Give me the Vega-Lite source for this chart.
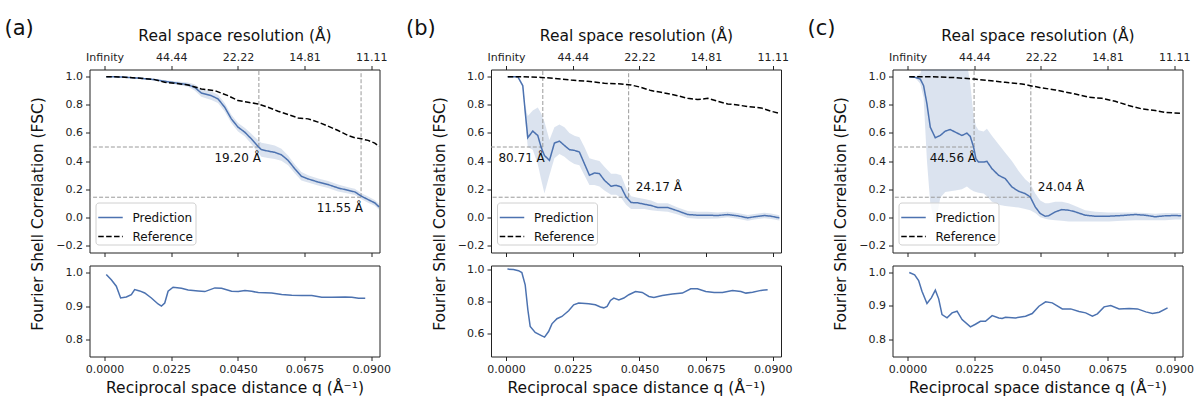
{
  "$schema": "https://vega.github.io/schema/vega-lite/v6.json",
  "padding": {"left": 3.5, "top": 16.5, "right": 0, "bottom": 0},
  "config": {
    "font": "DejaVu Sans",
    "view": {"stroke": "#222", "strokeWidth": 1},
    "axis": {
      "domain": false, "grid": false, "ticks": true, "tickColor": "#222", "tickSize": 4,
      "labelFont": "DejaVu Sans", "labelFontSize": 11, "labelColor": "#222", "labelPadding": 3, "labelOverlap": false,
      "titleFont": "DejaVu Sans", "titleFontSize": 15.5, "titleFontWeight": "normal", "titleColor": "#111"
    },
    "legend": {
      "orient": "none", "legendX": 6, "legendY": 133, "title": null, "symbolType": "stroke", "symbolSize": 600,
      "symbolStrokeWidth": 1.5, "labelFont": "DejaVu Sans", "labelFontSize": 12, "labelColor": "#111",
      "strokeColor": "#d0d0d0", "cornerRadius": 3, "padding": 2, "fillColor": "rgba(255,255,255,0.8)",
      "rowPadding": -10, "labelOffset": 9
    },
    "title": {"font": "DejaVu Sans", "fontSize": 21, "fontWeight": "normal", "color": "#111"}
  },
  "datasets": {
    "curvesA": [
      {"series": "Prediction", "q": 0.00056, "fsc": 1.0, "lo": 1.0, "hi": 1.0},
      {"series": "Prediction", "q": 0.00563, "fsc": 0.998, "lo": 0.996, "hi": 1.0},
      {"series": "Prediction", "q": 0.01126, "fsc": 0.99, "lo": 0.986, "hi": 0.994},
      {"series": "Prediction", "q": 0.01689, "fsc": 0.979, "lo": 0.973, "hi": 0.985},
      {"series": "Prediction", "q": 0.02027, "fsc": 0.967, "lo": 0.959, "hi": 0.975},
      {"series": "Prediction", "q": 0.02365, "fsc": 0.957, "lo": 0.947, "hi": 0.967},
      {"series": "Prediction", "q": 0.02815, "fsc": 0.943, "lo": 0.928, "hi": 0.958},
      {"series": "Prediction", "q": 0.0304, "fsc": 0.924, "lo": 0.902, "hi": 0.946},
      {"series": "Prediction", "q": 0.03265, "fsc": 0.884, "lo": 0.858, "hi": 0.91},
      {"series": "Prediction", "q": 0.03603, "fsc": 0.865, "lo": 0.835, "hi": 0.895},
      {"series": "Prediction", "q": 0.03828, "fsc": 0.842, "lo": 0.812, "hi": 0.872},
      {"series": "Prediction", "q": 0.04054, "fsc": 0.783, "lo": 0.753, "hi": 0.813},
      {"series": "Prediction", "q": 0.04279, "fsc": 0.7, "lo": 0.67, "hi": 0.73},
      {"series": "Prediction", "q": 0.04504, "fsc": 0.641, "lo": 0.611, "hi": 0.671},
      {"series": "Prediction", "q": 0.04729, "fsc": 0.606, "lo": 0.576, "hi": 0.636},
      {"series": "Prediction", "q": 0.04954, "fsc": 0.558, "lo": 0.522, "hi": 0.594},
      {"series": "Prediction", "q": 0.0518, "fsc": 0.504, "lo": 0.459, "hi": 0.549},
      {"series": "Prediction", "q": 0.05292, "fsc": 0.481, "lo": 0.431, "hi": 0.531},
      {"series": "Prediction", "q": 0.05517, "fsc": 0.471, "lo": 0.421, "hi": 0.521},
      {"series": "Prediction", "q": 0.05743, "fsc": 0.462, "lo": 0.414, "hi": 0.51},
      {"series": "Prediction", "q": 0.05968, "fsc": 0.445, "lo": 0.403, "hi": 0.487},
      {"series": "Prediction", "q": 0.06193, "fsc": 0.405, "lo": 0.37, "hi": 0.44},
      {"series": "Prediction", "q": 0.06418, "fsc": 0.346, "lo": 0.314, "hi": 0.378},
      {"series": "Prediction", "q": 0.06643, "fsc": 0.292, "lo": 0.262, "hi": 0.322},
      {"series": "Prediction", "q": 0.06869, "fsc": 0.273, "lo": 0.247, "hi": 0.299},
      {"series": "Prediction", "q": 0.07206, "fsc": 0.251, "lo": 0.226, "hi": 0.276},
      {"series": "Prediction", "q": 0.07544, "fsc": 0.233, "lo": 0.208, "hi": 0.258},
      {"series": "Prediction", "q": 0.07882, "fsc": 0.209, "lo": 0.184, "hi": 0.234},
      {"series": "Prediction", "q": 0.0822, "fsc": 0.192, "lo": 0.17, "hi": 0.214},
      {"series": "Prediction", "q": 0.08445, "fsc": 0.181, "lo": 0.159, "hi": 0.203},
      {"series": "Prediction", "q": 0.0867, "fsc": 0.15, "lo": 0.128, "hi": 0.172},
      {"series": "Prediction", "q": 0.08895, "fsc": 0.126, "lo": 0.104, "hi": 0.148},
      {"series": "Prediction", "q": 0.0912, "fsc": 0.103, "lo": 0.083, "hi": 0.123},
      {"series": "Prediction", "q": 0.09267, "fsc": 0.074, "lo": 0.054, "hi": 0.094},
      {"series": "Reference", "q": 0.00056, "fsc": 1.0},
      {"series": "Reference", "q": 0.00563, "fsc": 0.998},
      {"series": "Reference", "q": 0.01126, "fsc": 0.99},
      {"series": "Reference", "q": 0.01689, "fsc": 0.979},
      {"series": "Reference", "q": 0.02027, "fsc": 0.96},
      {"series": "Reference", "q": 0.02365, "fsc": 0.953},
      {"series": "Reference", "q": 0.02815, "fsc": 0.941},
      {"series": "Reference", "q": 0.03265, "fsc": 0.913},
      {"series": "Reference", "q": 0.03716, "fsc": 0.901},
      {"series": "Reference", "q": 0.04166, "fsc": 0.865},
      {"series": "Reference", "q": 0.04504, "fsc": 0.83},
      {"series": "Reference", "q": 0.04842, "fsc": 0.818},
      {"series": "Reference", "q": 0.0518, "fsc": 0.806},
      {"series": "Reference", "q": 0.05517, "fsc": 0.783},
      {"series": "Reference", "q": 0.05855, "fsc": 0.754},
      {"series": "Reference", "q": 0.06193, "fsc": 0.731},
      {"series": "Reference", "q": 0.06531, "fsc": 0.707},
      {"series": "Reference", "q": 0.06869, "fsc": 0.7},
      {"series": "Reference", "q": 0.07206, "fsc": 0.677},
      {"series": "Reference", "q": 0.07544, "fsc": 0.648},
      {"series": "Reference", "q": 0.07882, "fsc": 0.617},
      {"series": "Reference", "q": 0.0822, "fsc": 0.582},
      {"series": "Reference", "q": 0.08445, "fsc": 0.566},
      {"series": "Reference", "q": 0.0867, "fsc": 0.558},
      {"series": "Reference", "q": 0.08895, "fsc": 0.547},
      {"series": "Reference", "q": 0.0912, "fsc": 0.528},
      {"series": "Reference", "q": 0.09267, "fsc": 0.504}
    ],
    "curvesB": [
      {"series": "Prediction", "q": 0.00056, "fsc": 1.0, "lo": 1.0, "hi": 1.0},
      {"series": "Prediction", "q": 0.00394, "fsc": 1.0, "lo": 0.998, "hi": 1.0},
      {"series": "Prediction", "q": 0.00563, "fsc": 0.936, "lo": 0.925, "hi": 0.947},
      {"series": "Prediction", "q": 0.00641, "fsc": 0.759, "lo": 0.7, "hi": 0.8},
      {"series": "Prediction", "q": 0.00731, "fsc": 0.566, "lo": 0.5, "hi": 0.72},
      {"series": "Prediction", "q": 0.009, "fsc": 0.613, "lo": 0.48, "hi": 0.76},
      {"series": "Prediction", "q": 0.01069, "fsc": 0.582, "lo": 0.38, "hi": 0.78},
      {"series": "Prediction", "q": 0.01181, "fsc": 0.499, "lo": 0.27, "hi": 0.74},
      {"series": "Prediction", "q": 0.01294, "fsc": 0.44, "lo": 0.17, "hi": 0.68},
      {"series": "Prediction", "q": 0.01463, "fsc": 0.405, "lo": 0.3, "hi": 0.55},
      {"series": "Prediction", "q": 0.01631, "fsc": 0.528, "lo": 0.42, "hi": 0.64},
      {"series": "Prediction", "q": 0.018, "fsc": 0.542, "lo": 0.45, "hi": 0.66},
      {"series": "Prediction", "q": 0.01969, "fsc": 0.511, "lo": 0.43, "hi": 0.64},
      {"series": "Prediction", "q": 0.02138, "fsc": 0.481, "lo": 0.4, "hi": 0.6},
      {"series": "Prediction", "q": 0.02306, "fsc": 0.476, "lo": 0.38, "hi": 0.58},
      {"series": "Prediction", "q": 0.02475, "fsc": 0.464, "lo": 0.37, "hi": 0.57},
      {"series": "Prediction", "q": 0.02644, "fsc": 0.381, "lo": 0.3, "hi": 0.5},
      {"series": "Prediction", "q": 0.02813, "fsc": 0.299, "lo": 0.23, "hi": 0.42},
      {"series": "Prediction", "q": 0.02981, "fsc": 0.315, "lo": 0.23, "hi": 0.41},
      {"series": "Prediction", "q": 0.0315, "fsc": 0.311, "lo": 0.22, "hi": 0.4},
      {"series": "Prediction", "q": 0.03319, "fsc": 0.263, "lo": 0.19, "hi": 0.36},
      {"series": "Prediction", "q": 0.03544, "fsc": 0.221, "lo": 0.16, "hi": 0.31},
      {"series": "Prediction", "q": 0.03713, "fsc": 0.228, "lo": 0.16, "hi": 0.31},
      {"series": "Prediction", "q": 0.03881, "fsc": 0.216, "lo": 0.14, "hi": 0.3},
      {"series": "Prediction", "q": 0.0405, "fsc": 0.145, "lo": 0.09, "hi": 0.21},
      {"series": "Prediction", "q": 0.04219, "fsc": 0.105, "lo": 0.06, "hi": 0.15},
      {"series": "Prediction", "q": 0.04444, "fsc": 0.103, "lo": 0.06, "hi": 0.14},
      {"series": "Prediction", "q": 0.04669, "fsc": 0.093, "lo": 0.06, "hi": 0.13},
      {"series": "Prediction", "q": 0.04894, "fsc": 0.084, "lo": 0.05, "hi": 0.12},
      {"series": "Prediction", "q": 0.05119, "fsc": 0.07, "lo": 0.045, "hi": 0.1},
      {"series": "Prediction", "q": 0.05456, "fsc": 0.07, "lo": 0.04, "hi": 0.1},
      {"series": "Prediction", "q": 0.05794, "fsc": 0.046, "lo": 0.02, "hi": 0.07},
      {"series": "Prediction", "q": 0.06131, "fsc": 0.02, "lo": -0.005, "hi": 0.045},
      {"series": "Prediction", "q": 0.06469, "fsc": 0.015, "lo": -0.01, "hi": 0.04},
      {"series": "Prediction", "q": 0.06806, "fsc": 0.015, "lo": -0.01, "hi": 0.04},
      {"series": "Prediction", "q": 0.07144, "fsc": 0.013, "lo": -0.008, "hi": 0.035},
      {"series": "Prediction", "q": 0.07481, "fsc": 0.02, "lo": 0.0, "hi": 0.04},
      {"series": "Prediction", "q": 0.07819, "fsc": 0.011, "lo": -0.01, "hi": 0.03},
      {"series": "Prediction", "q": 0.08156, "fsc": -0.004, "lo": -0.024, "hi": 0.016},
      {"series": "Prediction", "q": 0.08381, "fsc": 0.004, "lo": -0.016, "hi": 0.024},
      {"series": "Prediction", "q": 0.08719, "fsc": 0.013, "lo": -0.007, "hi": 0.033},
      {"series": "Prediction", "q": 0.08944, "fsc": 0.008, "lo": -0.012, "hi": 0.028},
      {"series": "Prediction", "q": 0.09225, "fsc": -0.004, "lo": -0.022, "hi": 0.014},
      {"series": "Reference", "q": 0.00056, "fsc": 1.0},
      {"series": "Reference", "q": 0.00506, "fsc": 1.0},
      {"series": "Reference", "q": 0.01181, "fsc": 0.995},
      {"series": "Reference", "q": 0.01631, "fsc": 0.988},
      {"series": "Reference", "q": 0.02194, "fsc": 0.976},
      {"series": "Reference", "q": 0.02756, "fsc": 0.967},
      {"series": "Reference", "q": 0.03319, "fsc": 0.953},
      {"series": "Reference", "q": 0.03881, "fsc": 0.948},
      {"series": "Reference", "q": 0.04219, "fsc": 0.941},
      {"series": "Reference", "q": 0.04556, "fsc": 0.924},
      {"series": "Reference", "q": 0.04894, "fsc": 0.901},
      {"series": "Reference", "q": 0.05231, "fsc": 0.889},
      {"series": "Reference", "q": 0.05681, "fsc": 0.87},
      {"series": "Reference", "q": 0.06131, "fsc": 0.846},
      {"series": "Reference", "q": 0.06469, "fsc": 0.837},
      {"series": "Reference", "q": 0.06806, "fsc": 0.846},
      {"series": "Reference", "q": 0.07144, "fsc": 0.825},
      {"series": "Reference", "q": 0.07481, "fsc": 0.806},
      {"series": "Reference", "q": 0.07819, "fsc": 0.799},
      {"series": "Reference", "q": 0.08156, "fsc": 0.787},
      {"series": "Reference", "q": 0.08606, "fsc": 0.778},
      {"series": "Reference", "q": 0.08944, "fsc": 0.754},
      {"series": "Reference", "q": 0.09225, "fsc": 0.74}
    ],
    "curvesC": [
      {"series": "Prediction", "q": 0.00056, "fsc": 1.0, "lo": 1.0, "hi": 1.0},
      {"series": "Prediction", "q": 0.00259, "fsc": 0.995, "lo": 0.99, "hi": 1.0},
      {"series": "Prediction", "q": 0.00428, "fsc": 0.983, "lo": 0.95, "hi": 1.02},
      {"series": "Prediction", "q": 0.0054, "fsc": 0.936, "lo": 0.85, "hi": 1.1},
      {"series": "Prediction", "q": 0.00653, "fsc": 0.806, "lo": 0.4, "hi": 1.1},
      {"series": "Prediction", "q": 0.00765, "fsc": 0.641, "lo": 0.1, "hi": 1.1},
      {"series": "Prediction", "q": 0.00934, "fsc": 0.566, "lo": -0.06, "hi": 1.1},
      {"series": "Prediction", "q": 0.01103, "fsc": 0.582, "lo": 0.14, "hi": 1.1},
      {"series": "Prediction", "q": 0.01271, "fsc": 0.613, "lo": 0.18, "hi": 1.1},
      {"series": "Prediction", "q": 0.0144, "fsc": 0.624, "lo": 0.185, "hi": 1.1},
      {"series": "Prediction", "q": 0.01609, "fsc": 0.606, "lo": 0.19, "hi": 1.1},
      {"series": "Prediction", "q": 0.01834, "fsc": 0.582, "lo": 0.2, "hi": 1.1},
      {"series": "Prediction", "q": 0.02003, "fsc": 0.599, "lo": 0.22, "hi": 1.1},
      {"series": "Prediction", "q": 0.02115, "fsc": 0.575, "lo": 0.2, "hi": 0.95},
      {"series": "Prediction", "q": 0.02228, "fsc": 0.499, "lo": 0.185, "hi": 0.72},
      {"series": "Prediction", "q": 0.02306, "fsc": 0.417, "lo": 0.18, "hi": 0.65},
      {"series": "Prediction", "q": 0.02396, "fsc": 0.393, "lo": 0.175, "hi": 0.62},
      {"series": "Prediction", "q": 0.02565, "fsc": 0.393, "lo": 0.17, "hi": 0.61},
      {"series": "Prediction", "q": 0.02678, "fsc": 0.398, "lo": 0.15, "hi": 0.63},
      {"series": "Prediction", "q": 0.02846, "fsc": 0.346, "lo": 0.11, "hi": 0.58},
      {"series": "Prediction", "q": 0.03071, "fsc": 0.299, "lo": 0.09, "hi": 0.52},
      {"series": "Prediction", "q": 0.03296, "fsc": 0.275, "lo": 0.08, "hi": 0.46},
      {"series": "Prediction", "q": 0.03521, "fsc": 0.216, "lo": 0.075, "hi": 0.4},
      {"series": "Prediction", "q": 0.03746, "fsc": 0.185, "lo": 0.07, "hi": 0.33},
      {"series": "Prediction", "q": 0.03971, "fsc": 0.169, "lo": 0.06, "hi": 0.27},
      {"series": "Prediction", "q": 0.0414, "fsc": 0.145, "lo": 0.05, "hi": 0.24},
      {"series": "Prediction", "q": 0.04309, "fsc": 0.074, "lo": 0.03, "hi": 0.17},
      {"series": "Prediction", "q": 0.04478, "fsc": 0.027, "lo": 0.0, "hi": 0.12},
      {"series": "Prediction", "q": 0.04646, "fsc": 0.008, "lo": -0.01, "hi": 0.1},
      {"series": "Prediction", "q": 0.04759, "fsc": 0.011, "lo": -0.015, "hi": 0.1},
      {"series": "Prediction", "q": 0.04984, "fsc": 0.039, "lo": -0.02, "hi": 0.11},
      {"series": "Prediction", "q": 0.05209, "fsc": 0.055, "lo": -0.025, "hi": 0.11},
      {"series": "Prediction", "q": 0.05434, "fsc": 0.051, "lo": -0.03, "hi": 0.1},
      {"series": "Prediction", "q": 0.05659, "fsc": 0.039, "lo": -0.03, "hi": 0.08},
      {"series": "Prediction", "q": 0.05996, "fsc": 0.015, "lo": -0.03, "hi": 0.05},
      {"series": "Prediction", "q": 0.06334, "fsc": 0.008, "lo": -0.03, "hi": 0.04},
      {"series": "Prediction", "q": 0.06784, "fsc": 0.008, "lo": -0.03, "hi": 0.035},
      {"series": "Prediction", "q": 0.07234, "fsc": 0.013, "lo": -0.025, "hi": 0.035},
      {"series": "Prediction", "q": 0.07684, "fsc": 0.02, "lo": -0.02, "hi": 0.035},
      {"series": "Prediction", "q": 0.08021, "fsc": 0.015, "lo": -0.02, "hi": 0.03},
      {"series": "Prediction", "q": 0.08359, "fsc": 0.004, "lo": -0.02, "hi": 0.025},
      {"series": "Prediction", "q": 0.08696, "fsc": 0.011, "lo": -0.02, "hi": 0.03},
      {"series": "Prediction", "q": 0.09034, "fsc": 0.013, "lo": -0.015, "hi": 0.03},
      {"series": "Prediction", "q": 0.09236, "fsc": 0.011, "lo": -0.015, "hi": 0.03},
      {"series": "Reference", "q": 0.00056, "fsc": 1.0},
      {"series": "Reference", "q": 0.00484, "fsc": 1.0},
      {"series": "Reference", "q": 0.01046, "fsc": 0.998},
      {"series": "Reference", "q": 0.01609, "fsc": 0.993},
      {"series": "Reference", "q": 0.0225, "fsc": 0.983},
      {"series": "Reference", "q": 0.02734, "fsc": 0.972},
      {"series": "Reference", "q": 0.03296, "fsc": 0.96},
      {"series": "Reference", "q": 0.03859, "fsc": 0.948},
      {"series": "Reference", "q": 0.0414, "fsc": 0.936},
      {"series": "Reference", "q": 0.04534, "fsc": 0.92},
      {"series": "Reference", "q": 0.04984, "fsc": 0.906},
      {"series": "Reference", "q": 0.05209, "fsc": 0.896},
      {"series": "Reference", "q": 0.05659, "fsc": 0.877},
      {"series": "Reference", "q": 0.06109, "fsc": 0.854},
      {"series": "Reference", "q": 0.06559, "fsc": 0.846},
      {"series": "Reference", "q": 0.07009, "fsc": 0.825},
      {"series": "Reference", "q": 0.07459, "fsc": 0.795},
      {"series": "Reference", "q": 0.07909, "fsc": 0.771},
      {"series": "Reference", "q": 0.08359, "fsc": 0.759},
      {"series": "Reference", "q": 0.08696, "fsc": 0.745},
      {"series": "Reference", "q": 0.09236, "fsc": 0.74}
    ],
    "cutsA": [
      {"qc": 0.05208, "yc": 0.5, "label": "19.20 Å", "side": "below"},
      {"qc": 0.08658, "yc": 0.143, "label": "11.55 Å", "side": "below"}
    ],
    "cutsB": [
      {"qc": 0.01239, "yc": 0.5, "label": "80.71 Å", "side": "below"},
      {"qc": 0.04137, "yc": 0.143, "label": "24.17 Å", "side": "above"}
    ],
    "cutsC": [
      {"qc": 0.02244, "yc": 0.5, "label": "44.56 Å", "side": "below"},
      {"qc": 0.0416, "yc": 0.143, "label": "24.04 Å", "side": "above"}
    ],
    "ratioA": [
      {"q": 0.00056, "v": 0.994}, {"q": 0.00226, "v": 0.978}, {"q": 0.00395, "v": 0.959},
      {"q": 0.00541, "v": 0.924}, {"q": 0.00733, "v": 0.927}, {"q": 0.00902, "v": 0.934},
      {"q": 0.01015, "v": 0.949}, {"q": 0.01184, "v": 0.945}, {"q": 0.01354, "v": 0.939},
      {"q": 0.01579, "v": 0.924}, {"q": 0.01805, "v": 0.906}, {"q": 0.01918, "v": 0.9},
      {"q": 0.0203, "v": 0.909}, {"q": 0.02143, "v": 0.944}, {"q": 0.02312, "v": 0.956},
      {"q": 0.02594, "v": 0.953}, {"q": 0.0282, "v": 0.948}, {"q": 0.03158, "v": 0.945},
      {"q": 0.03384, "v": 0.943}, {"q": 0.03722, "v": 0.954}, {"q": 0.03948, "v": 0.953},
      {"q": 0.04286, "v": 0.944}, {"q": 0.04512, "v": 0.943}, {"q": 0.04738, "v": 0.946},
      {"q": 0.04963, "v": 0.944}, {"q": 0.05189, "v": 0.94}, {"q": 0.0564, "v": 0.939},
      {"q": 0.05978, "v": 0.934}, {"q": 0.06317, "v": 0.932}, {"q": 0.06655, "v": 0.931},
      {"q": 0.06994, "v": 0.931}, {"q": 0.07332, "v": 0.926}, {"q": 0.0767, "v": 0.926},
      {"q": 0.08122, "v": 0.927}, {"q": 0.08347, "v": 0.926}, {"q": 0.08573, "v": 0.923},
      {"q": 0.08798, "v": 0.923}
    ],
    "ratioB": [
      {"q": 0.00045, "v": 1.0}, {"q": 0.00248, "v": 0.998}, {"q": 0.00418, "v": 0.99},
      {"q": 0.00531, "v": 0.979}, {"q": 0.00644, "v": 0.902}, {"q": 0.00734, "v": 0.746},
      {"q": 0.00813, "v": 0.642}, {"q": 0.00982, "v": 0.604}, {"q": 0.01208, "v": 0.583},
      {"q": 0.01298, "v": 0.575}, {"q": 0.01434, "v": 0.61}, {"q": 0.01547, "v": 0.658},
      {"q": 0.01716, "v": 0.69}, {"q": 0.01885, "v": 0.704}, {"q": 0.02111, "v": 0.74},
      {"q": 0.02281, "v": 0.777}, {"q": 0.0245, "v": 0.788}, {"q": 0.02789, "v": 0.783},
      {"q": 0.03014, "v": 0.777}, {"q": 0.03184, "v": 0.763}, {"q": 0.03297, "v": 0.758},
      {"q": 0.0341, "v": 0.767}, {"q": 0.03523, "v": 0.804}, {"q": 0.03636, "v": 0.819},
      {"q": 0.03805, "v": 0.808}, {"q": 0.03974, "v": 0.819}, {"q": 0.04143, "v": 0.84},
      {"q": 0.04369, "v": 0.86}, {"q": 0.04595, "v": 0.854}, {"q": 0.0482, "v": 0.829},
      {"q": 0.0499, "v": 0.823}, {"q": 0.05272, "v": 0.835}, {"q": 0.05611, "v": 0.844},
      {"q": 0.0595, "v": 0.85}, {"q": 0.06232, "v": 0.877}, {"q": 0.06458, "v": 0.877},
      {"q": 0.0674, "v": 0.86}, {"q": 0.07022, "v": 0.854}, {"q": 0.07305, "v": 0.854},
      {"q": 0.07643, "v": 0.867}, {"q": 0.07926, "v": 0.86}, {"q": 0.08095, "v": 0.85},
      {"q": 0.08321, "v": 0.856}, {"q": 0.08603, "v": 0.867}, {"q": 0.08829, "v": 0.871}
    ],
    "ratioC": [
      {"q": 0.00056, "v": 1.0}, {"q": 0.00237, "v": 0.993}, {"q": 0.00372, "v": 0.976},
      {"q": 0.00485, "v": 0.944}, {"q": 0.00654, "v": 0.907}, {"q": 0.00801, "v": 0.924},
      {"q": 0.00936, "v": 0.947}, {"q": 0.01049, "v": 0.921}, {"q": 0.01162, "v": 0.874},
      {"q": 0.01331, "v": 0.864}, {"q": 0.015, "v": 0.879}, {"q": 0.01669, "v": 0.884},
      {"q": 0.01839, "v": 0.859}, {"q": 0.02121, "v": 0.837}, {"q": 0.0229, "v": 0.845},
      {"q": 0.02459, "v": 0.854}, {"q": 0.02628, "v": 0.854}, {"q": 0.02854, "v": 0.871},
      {"q": 0.03079, "v": 0.864}, {"q": 0.03192, "v": 0.862}, {"q": 0.03305, "v": 0.866},
      {"q": 0.03643, "v": 0.864}, {"q": 0.03982, "v": 0.869}, {"q": 0.04207, "v": 0.877},
      {"q": 0.04433, "v": 0.899}, {"q": 0.04659, "v": 0.912}, {"q": 0.04884, "v": 0.909},
      {"q": 0.05223, "v": 0.891}, {"q": 0.05505, "v": 0.891}, {"q": 0.05787, "v": 0.883},
      {"q": 0.06012, "v": 0.879}, {"q": 0.06238, "v": 0.869}, {"q": 0.06407, "v": 0.876},
      {"q": 0.06633, "v": 0.897}, {"q": 0.06858, "v": 0.901}, {"q": 0.0714, "v": 0.891},
      {"q": 0.07479, "v": 0.892}, {"q": 0.07761, "v": 0.891}, {"q": 0.08043, "v": 0.882},
      {"q": 0.08268, "v": 0.877}, {"q": 0.08494, "v": 0.881}, {"q": 0.08776, "v": 0.894}
    ]
  },
  "columns": 3,
  "bounds": "flush",
  "spacing": {"row": 13, "column": 111.5},
  "resolve": {
    "scale": {"color": "independent", "strokeDash": "independent"},
    "legend": {"color": "independent", "strokeDash": "independent"}
  },
  "concat": [
    {
      "width": 290, "height": 183,
      "title": {"text": "(a)", "anchor": "start", "frame": "group", "dx": -85, "dy": 14},
      "data": {"name": "curvesA"},
      "layer": [
        {
          "transform": [{"filter": "datum.series == 'Prediction'"}],
          "mark": {"type": "area", "color": "#4c72b0", "opacity": 0.2, "clip": true},
          "encoding": {
            "x": {"field": "q", "type": "quantitative", "scale": {"domain": [-0.0051, 0.0928], "nice": false, "zero": false},
              "axis": {"orient": "top", "values": [0, 0.0225, 0.045, 0.0675, 0.09], "labelExpr": "datum.value == 0 ? 'Infinity' : format(1 / datum.value, '.2f')", "title": "Real space resolution (Å)", "titlePadding": 8}},
            "y": {"field": "lo", "type": "quantitative", "scale": {"domain": [-0.25, 1.051], "nice": false, "zero": false},
              "axis": {"values": [-0.2, 0, 0.2, 0.4, 0.6, 0.8, 1.0], "format": ".1f", "labelOverlap": false, "title": "Fourier Shell Correlation (FSC)", "titleX": -52, "titleY": 144, "titleAngle": 270, "titleAlign": "center", "titleBaseline": "middle"}},
            "y2": {"field": "hi"}
          }
        },
        {
          "data": {"name": "cutsA"},
          "mark": {"type": "rule", "color": "#9a9a9a", "strokeWidth": 1, "strokeDash": [4, 2]},
          "encoding": {
            "x": {"field": "qc", "type": "quantitative", "axis": null},
            "y": {"field": "yc", "type": "quantitative", "axis": {"values": [-0.2, 0, 0.2, 0.4, 0.6, 0.8, 1.0], "format": ".1f", "labelOverlap": false, "title": "Fourier Shell Correlation (FSC)", "titleX": -52, "titleY": 144, "titleAngle": 270, "titleAlign": "center", "titleBaseline": "middle"}},
            "y2": {"datum": 1.051}
          }
        },
        {
          "data": {"name": "cutsA"},
          "mark": {"type": "rule", "color": "#9a9a9a", "strokeWidth": 1, "strokeDash": [4, 2]},
          "encoding": {
            "x": {"field": "qc", "type": "quantitative", "axis": null},
            "x2": {"datum": -0.0051},
            "y": {"field": "yc", "type": "quantitative", "axis": {"values": [-0.2, 0, 0.2, 0.4, 0.6, 0.8, 1.0], "format": ".1f", "labelOverlap": false, "title": "Fourier Shell Correlation (FSC)", "titleX": -52, "titleY": 144, "titleAngle": 270, "titleAlign": "center", "titleBaseline": "middle"}}
          }
        },
        {
          "mark": {"type": "line", "strokeWidth": 1.5},
          "encoding": {
            "x": {"field": "q", "type": "quantitative", "axis": {"orient": "bottom", "values": [0, 0.0225, 0.045, 0.0675, 0.09], "labels": false, "title": null}},
            "y": {"field": "fsc", "type": "quantitative", "axis": {"values": [-0.2, 0, 0.2, 0.4, 0.6, 0.8, 1.0], "format": ".1f", "labelOverlap": false, "title": "Fourier Shell Correlation (FSC)", "titleX": -52, "titleY": 144, "titleAngle": 270, "titleAlign": "center", "titleBaseline": "middle"}},
            "color": {"field": "series", "type": "nominal", "scale": {"domain": ["Prediction", "Reference"], "range": ["#4c72b0", "#000000"]}},
            "strokeDash": {"field": "series", "type": "nominal", "scale": {"domain": ["Prediction", "Reference"], "range": [[1, 0], [5.5, 2.4]]}}
          }
        },
        {
          "data": {"name": "cutsA"},
          "transform": [{"filter": "datum.side == 'below'"}],
          "mark": {"type": "text", "align": "right", "baseline": "top", "dx": 2, "dy": 6, "fontSize": 12, "color": "#111"},
          "encoding": {
            "x": {"field": "qc", "type": "quantitative", "axis": null},
            "y": {"field": "yc", "type": "quantitative", "axis": {"values": [-0.2, 0, 0.2, 0.4, 0.6, 0.8, 1.0], "format": ".1f", "labelOverlap": false, "title": "Fourier Shell Correlation (FSC)", "titleX": -52, "titleY": 144, "titleAngle": 270, "titleAlign": "center", "titleBaseline": "middle"}},
            "text": {"field": "label"}
          }
        }
      ],
      "resolve": {"axis": {"x": "independent"}}
    },
    {
      "width": 290, "height": 183,
      "title": {"text": "(b)", "anchor": "start", "frame": "group", "dx": -85, "dy": 14},
      "data": {"name": "curvesB"},
      "layer": [
        {
          "transform": [{"filter": "datum.series == 'Prediction'"}],
          "mark": {"type": "area", "color": "#4c72b0", "opacity": 0.2, "clip": true},
          "encoding": {
            "x": {"field": "q", "type": "quantitative", "scale": {"domain": [-0.0051, 0.0928], "nice": false, "zero": false},
              "axis": {"orient": "top", "values": [0, 0.0225, 0.045, 0.0675, 0.09], "labelExpr": "datum.value == 0 ? 'Infinity' : format(1 / datum.value, '.2f')", "title": "Real space resolution (Å)", "titlePadding": 8}},
            "y": {"field": "lo", "type": "quantitative", "scale": {"domain": [-0.25, 1.051], "nice": false, "zero": false},
              "axis": {"values": [-0.2, 0, 0.2, 0.4, 0.6, 0.8, 1.0], "format": ".1f", "labelOverlap": false, "title": "Fourier Shell Correlation (FSC)", "titleX": -52, "titleY": 144, "titleAngle": 270, "titleAlign": "center", "titleBaseline": "middle"}},
            "y2": {"field": "hi"}
          }
        },
        {
          "data": {"name": "cutsB"},
          "mark": {"type": "rule", "color": "#9a9a9a", "strokeWidth": 1, "strokeDash": [4, 2]},
          "encoding": {
            "x": {"field": "qc", "type": "quantitative", "axis": null},
            "y": {"field": "yc", "type": "quantitative", "axis": {"values": [-0.2, 0, 0.2, 0.4, 0.6, 0.8, 1.0], "format": ".1f", "labelOverlap": false, "title": "Fourier Shell Correlation (FSC)", "titleX": -52, "titleY": 144, "titleAngle": 270, "titleAlign": "center", "titleBaseline": "middle"}},
            "y2": {"datum": 1.051}
          }
        },
        {
          "data": {"name": "cutsB"},
          "mark": {"type": "rule", "color": "#9a9a9a", "strokeWidth": 1, "strokeDash": [4, 2]},
          "encoding": {
            "x": {"field": "qc", "type": "quantitative", "axis": null},
            "x2": {"datum": -0.0051},
            "y": {"field": "yc", "type": "quantitative", "axis": {"values": [-0.2, 0, 0.2, 0.4, 0.6, 0.8, 1.0], "format": ".1f", "labelOverlap": false, "title": "Fourier Shell Correlation (FSC)", "titleX": -52, "titleY": 144, "titleAngle": 270, "titleAlign": "center", "titleBaseline": "middle"}}
          }
        },
        {
          "mark": {"type": "line", "strokeWidth": 1.5},
          "encoding": {
            "x": {"field": "q", "type": "quantitative", "axis": {"orient": "bottom", "values": [0, 0.0225, 0.045, 0.0675, 0.09], "labels": false, "title": null}},
            "y": {"field": "fsc", "type": "quantitative", "axis": {"values": [-0.2, 0, 0.2, 0.4, 0.6, 0.8, 1.0], "format": ".1f", "labelOverlap": false, "title": "Fourier Shell Correlation (FSC)", "titleX": -52, "titleY": 144, "titleAngle": 270, "titleAlign": "center", "titleBaseline": "middle"}},
            "color": {"field": "series", "type": "nominal", "scale": {"domain": ["Prediction", "Reference"], "range": ["#4c72b0", "#000000"]}},
            "strokeDash": {"field": "series", "type": "nominal", "scale": {"domain": ["Prediction", "Reference"], "range": [[1, 0], [5.5, 2.4]]}}
          }
        },
        {
          "data": {"name": "cutsB"},
          "transform": [{"filter": "datum.side == 'below'"}],
          "mark": {"type": "text", "align": "right", "baseline": "top", "dx": 2, "dy": 6, "fontSize": 12, "color": "#111"},
          "encoding": {
            "x": {"field": "qc", "type": "quantitative", "axis": null},
            "y": {"field": "yc", "type": "quantitative", "axis": {"values": [-0.2, 0, 0.2, 0.4, 0.6, 0.8, 1.0], "format": ".1f", "labelOverlap": false, "title": "Fourier Shell Correlation (FSC)", "titleX": -52, "titleY": 144, "titleAngle": 270, "titleAlign": "center", "titleBaseline": "middle"}},
            "text": {"field": "label"}
          }
        },
        {
          "data": {"name": "cutsB"},
          "transform": [{"filter": "datum.side == 'above'"}],
          "mark": {"type": "text", "align": "left", "baseline": "alphabetic", "dx": 7, "dy": -6, "fontSize": 12, "color": "#111"},
          "encoding": {
            "x": {"field": "qc", "type": "quantitative", "axis": null},
            "y": {"field": "yc", "type": "quantitative", "axis": {"values": [-0.2, 0, 0.2, 0.4, 0.6, 0.8, 1.0], "format": ".1f", "labelOverlap": false, "title": "Fourier Shell Correlation (FSC)", "titleX": -52, "titleY": 144, "titleAngle": 270, "titleAlign": "center", "titleBaseline": "middle"}},
            "text": {"field": "label"}
          }
        }
      ],
      "resolve": {"axis": {"x": "independent"}}
    },
    {
      "width": 290, "height": 183,
      "title": {"text": "(c)", "anchor": "start", "frame": "group", "dx": -85, "dy": 14},
      "data": {"name": "curvesC"},
      "layer": [
        {
          "transform": [{"filter": "datum.series == 'Prediction'"}],
          "mark": {"type": "area", "color": "#4c72b0", "opacity": 0.2, "clip": true},
          "encoding": {
            "x": {"field": "q", "type": "quantitative", "scale": {"domain": [-0.0051, 0.0928], "nice": false, "zero": false},
              "axis": {"orient": "top", "values": [0, 0.0225, 0.045, 0.0675, 0.09], "labelExpr": "datum.value == 0 ? 'Infinity' : format(1 / datum.value, '.2f')", "title": "Real space resolution (Å)", "titlePadding": 8}},
            "y": {"field": "lo", "type": "quantitative", "scale": {"domain": [-0.25, 1.051], "nice": false, "zero": false},
              "axis": {"values": [-0.2, 0, 0.2, 0.4, 0.6, 0.8, 1.0], "format": ".1f", "labelOverlap": false, "title": "Fourier Shell Correlation (FSC)", "titleX": -52, "titleY": 144, "titleAngle": 270, "titleAlign": "center", "titleBaseline": "middle"}},
            "y2": {"field": "hi"}
          }
        },
        {
          "data": {"name": "cutsC"},
          "mark": {"type": "rule", "color": "#9a9a9a", "strokeWidth": 1, "strokeDash": [4, 2]},
          "encoding": {
            "x": {"field": "qc", "type": "quantitative", "axis": null},
            "y": {"field": "yc", "type": "quantitative", "axis": {"values": [-0.2, 0, 0.2, 0.4, 0.6, 0.8, 1.0], "format": ".1f", "labelOverlap": false, "title": "Fourier Shell Correlation (FSC)", "titleX": -52, "titleY": 144, "titleAngle": 270, "titleAlign": "center", "titleBaseline": "middle"}},
            "y2": {"datum": 1.051}
          }
        },
        {
          "data": {"name": "cutsC"},
          "mark": {"type": "rule", "color": "#9a9a9a", "strokeWidth": 1, "strokeDash": [4, 2]},
          "encoding": {
            "x": {"field": "qc", "type": "quantitative", "axis": null},
            "x2": {"datum": -0.0051},
            "y": {"field": "yc", "type": "quantitative", "axis": {"values": [-0.2, 0, 0.2, 0.4, 0.6, 0.8, 1.0], "format": ".1f", "labelOverlap": false, "title": "Fourier Shell Correlation (FSC)", "titleX": -52, "titleY": 144, "titleAngle": 270, "titleAlign": "center", "titleBaseline": "middle"}}
          }
        },
        {
          "mark": {"type": "line", "strokeWidth": 1.5},
          "encoding": {
            "x": {"field": "q", "type": "quantitative", "axis": {"orient": "bottom", "values": [0, 0.0225, 0.045, 0.0675, 0.09], "labels": false, "title": null}},
            "y": {"field": "fsc", "type": "quantitative", "axis": {"values": [-0.2, 0, 0.2, 0.4, 0.6, 0.8, 1.0], "format": ".1f", "labelOverlap": false, "title": "Fourier Shell Correlation (FSC)", "titleX": -52, "titleY": 144, "titleAngle": 270, "titleAlign": "center", "titleBaseline": "middle"}},
            "color": {"field": "series", "type": "nominal", "scale": {"domain": ["Prediction", "Reference"], "range": ["#4c72b0", "#000000"]}},
            "strokeDash": {"field": "series", "type": "nominal", "scale": {"domain": ["Prediction", "Reference"], "range": [[1, 0], [5.5, 2.4]]}}
          }
        },
        {
          "data": {"name": "cutsC"},
          "transform": [{"filter": "datum.side == 'below'"}],
          "mark": {"type": "text", "align": "right", "baseline": "top", "dx": 2, "dy": 6, "fontSize": 12, "color": "#111"},
          "encoding": {
            "x": {"field": "qc", "type": "quantitative", "axis": null},
            "y": {"field": "yc", "type": "quantitative", "axis": {"values": [-0.2, 0, 0.2, 0.4, 0.6, 0.8, 1.0], "format": ".1f", "labelOverlap": false, "title": "Fourier Shell Correlation (FSC)", "titleX": -52, "titleY": 144, "titleAngle": 270, "titleAlign": "center", "titleBaseline": "middle"}},
            "text": {"field": "label"}
          }
        },
        {
          "data": {"name": "cutsC"},
          "transform": [{"filter": "datum.side == 'above'"}],
          "mark": {"type": "text", "align": "left", "baseline": "alphabetic", "dx": 7, "dy": -6, "fontSize": 12, "color": "#111"},
          "encoding": {
            "x": {"field": "qc", "type": "quantitative", "axis": null},
            "y": {"field": "yc", "type": "quantitative", "axis": {"values": [-0.2, 0, 0.2, 0.4, 0.6, 0.8, 1.0], "format": ".1f", "labelOverlap": false, "title": "Fourier Shell Correlation (FSC)", "titleX": -52, "titleY": 144, "titleAngle": 270, "titleAlign": "center", "titleBaseline": "middle"}},
            "text": {"field": "label"}
          }
        }
      ],
      "resolve": {"axis": {"x": "independent"}}
    },
    {
      "width": 290, "height": 91,
      "data": {"name": "ratioA"},
      "mark": {"type": "line", "color": "#4c72b0", "strokeWidth": 1.5},
      "encoding": {
        "x": {"field": "q", "type": "quantitative", "scale": {"domain": [-0.0051, 0.0928], "nice": false, "zero": false},
          "axis": {"values": [0, 0.0225, 0.045, 0.0675, 0.09], "format": ".4f", "title": "Reciprocal space distance q (Å⁻¹)", "titlePadding": 6}},
        "y": {"field": "v", "type": "quantitative", "scale": {"domain": [0.7497, 1.0207], "nice": false, "zero": false},
          "axis": {"values": [0.8, 0.9, 1.0], "format": ".1f", "title": null}}
      }
    },
    {
      "width": 290, "height": 91,
      "data": {"name": "ratioB"},
      "mark": {"type": "line", "color": "#4c72b0", "strokeWidth": 1.5},
      "encoding": {
        "x": {"field": "q", "type": "quantitative", "scale": {"domain": [-0.0051, 0.0928], "nice": false, "zero": false},
          "axis": {"values": [0, 0.0225, 0.045, 0.0675, 0.09], "format": ".4f", "title": "Reciprocal space distance q (Å⁻¹)", "titlePadding": 6}},
        "y": {"field": "v", "type": "quantitative", "scale": {"domain": [0.454, 1.0225], "nice": false, "zero": false},
          "axis": {"values": [0.6, 0.8, 1.0], "format": ".1f", "title": null}}
      }
    },
    {
      "width": 290, "height": 91,
      "data": {"name": "ratioC"},
      "mark": {"type": "line", "color": "#4c72b0", "strokeWidth": 1.5},
      "encoding": {
        "x": {"field": "q", "type": "quantitative", "scale": {"domain": [-0.0051, 0.0928], "nice": false, "zero": false},
          "axis": {"values": [0, 0.0225, 0.045, 0.0675, 0.09], "format": ".4f", "title": "Reciprocal space distance q (Å⁻¹)", "titlePadding": 6}},
        "y": {"field": "v", "type": "quantitative", "scale": {"domain": [0.7485, 1.0208], "nice": false, "zero": false},
          "axis": {"values": [0.8, 0.9, 1.0], "format": ".1f", "title": null}}
      }
    }
  ]
}
